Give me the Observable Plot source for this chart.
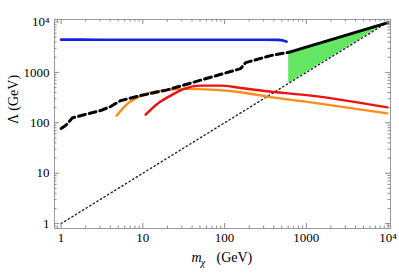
<!DOCTYPE html>
<html>
<head>
<meta charset="utf-8">
<script src="https://cdn.jsdelivr.net/npm/d3@7"></script>
<script src="https://cdn.jsdelivr.net/npm/@observablehq/plot@0.6"></script>
<style>
  html, body { margin: 0; padding: 0; background: white; }
</style>
</head>
<body>
<div id="chart"></div>
<script>
// ---- data ----
const tickValues = [1, 10, 100, 1000, 10000];
const tickLabels = ["1", "10", "100", "1000", "10\u2074"];

const blueX = [1, 3, 10, 30, 100, 300, 450, 520, 575];
const blueY = [4470, 4460, 4450, 4440, 4440, 4450, 4420, 4300, 4080];

const dashX = [1, 1.135, 1.37, 2.09, 3.04, 4.03, 5.35, 9.4, 19.9, 67.6, 157, 181, 366, 609];
const dashY = [77, 88, 125, 150, 175, 210, 276, 347, 450, 800, 1189, 1564, 2154, 2505];

const solidX = [609, 10000];
const solidY = [2505, 9700];

const dotX = [1, 10000];
const dotY = [1, 10000];

const greenX = [609, 10000];
const greenLow = [609, 10000];
const greenHigh = [2505, 9700];

const orangeX = [4.78, 6.46, 10.3, 19.9, 35.1, 67.6, 157, 334, 1133, 9830];
const orangeY = [139, 237, 363, 450, 471, 456, 403, 331, 255, 154];

const redX = [10.8, 15.0, 21.9, 31.8, 51, 89.8, 157, 334, 1133, 9830];
const redY = [145, 237, 347, 471, 547, 547, 492, 422, 347, 203];

// ---- helpers ----
const rows = (xs, ys) => xs.map((x, i) => ({x, y: ys[i]}));
const xDomain = [0.83, 10715];
const yDomain = [0.8, 11220];
const minorTicks = (lo, hi) => {
  const out = [];
  for (let e = -1; e <= 4; e++) for (let m = 2; m <= 9; m++) {
    const v = m * Math.pow(10, e);
    if (v > lo && v < hi) out.push(v);
  }
  return out;
};
const xMinor = minorTicks(...xDomain);
const yMinor = minorTicks(...yDomain);

const W = 399, H = 275, mL = 54, mR = 9, mT = 19, mB = 47;
const innerW = W - mL - mR, innerH = H - mT - mB;
const major = 5, minor = 2.5;
const tickStroke = "#8c8c8c";
const font = "Liberation Serif";

const chart = Plot.plot({
  width: W, height: H,
  marginLeft: mL, marginRight: mR, marginTop: mT, marginBottom: mB,
  x: {type: "log", domain: xDomain, axis: null},
  y: {type: "log", domain: yDomain, axis: null},
  style: {fontFamily: font, fontSize: "13px", background: "white", color: "black"},
  marks: [
    // green region
    Plot.areaY(greenX.map((x, i) => ({x, lo: greenLow[i], hi: greenHigh[i]})),
      {x: "x", y1: "lo", y2: "hi", fill: "#63e663", fillOpacity: 1}),
    // dotted diagonal
    Plot.line(rows(dotX, dotY), {x: "x", y: "y", stroke: "#222", strokeWidth: 1.4, strokeDasharray: "1.3,2.9"}),
    // orange and red curves
    Plot.line(rows(orangeX, orangeY), {x: "x", y: "y", stroke: "#ff8c1a", strokeWidth: 2.4, curve: "monotone-x"}),
    Plot.line(rows(redX, redY), {x: "x", y: "y", stroke: "#f01010", strokeWidth: 2.4, curve: "monotone-x"}),
    // black dashed and solid
    Plot.line(rows(dashX, dashY), {x: "x", y: "y", stroke: "black", strokeWidth: 3, strokeDasharray: "7,4"}),
    Plot.line(rows(solidX, solidY), {x: "x", y: "y", stroke: "black", strokeWidth: 3}),
    // blue
    Plot.line(rows(blueX, blueY), {x: "x", y: "y", stroke: "#1020e8", strokeWidth: 2.6, curve: "monotone-x"}),
    // frame
    Plot.frame({stroke: "#9a9a9a"}),
    // ticks: bottom/top
    Plot.ruleX(tickValues, {stroke: tickStroke, insetTop: innerH - major}),
    Plot.ruleX(tickValues, {stroke: tickStroke, insetBottom: innerH - major}),
    Plot.ruleX(xMinor, {stroke: tickStroke, insetTop: innerH - minor}),
    Plot.ruleX(xMinor, {stroke: tickStroke, insetBottom: innerH - minor}),
    // ticks: left/right
    Plot.ruleY(tickValues, {stroke: tickStroke, insetRight: innerW - major}),
    Plot.ruleY(tickValues, {stroke: tickStroke, insetLeft: innerW - major}),
    Plot.ruleY(yMinor, {stroke: tickStroke, insetRight: innerW - minor}),
    Plot.ruleY(yMinor, {stroke: tickStroke, insetLeft: innerW - minor}),
    // tick labels
    Plot.text(tickValues, {x: d => d, text: (d, i) => tickLabels[i], frameAnchor: "bottom", dy: 13, fontSize: 13}),
    Plot.text(tickValues, {y: d => d, text: (d, i) => tickLabels[i], frameAnchor: "left", textAnchor: "end", dx: -5, fontSize: 13}),
    // axis labels
    Plot.text(["\u039B (GeV)"], {text: d => d, frameAnchor: "left", rotate: -90, dx: -41, fontSize: 14}),
    Plot.text(["m"], {text: d => d, frameAnchor: "bottom", dx: -26, dy: 33, fontSize: 14, fontStyle: "italic"}),
    Plot.text(["\u03C7"], {text: d => d, frameAnchor: "bottom", dx: -19.5, dy: 37, fontSize: 10, fontStyle: "italic"}),
    Plot.text(["(GeV)"], {text: d => d, frameAnchor: "bottom", textAnchor: "start", dx: -6, dy: 33, fontSize: 14})
  ]
});
document.getElementById("chart").appendChild(chart);
</script>
</body>
</html>
